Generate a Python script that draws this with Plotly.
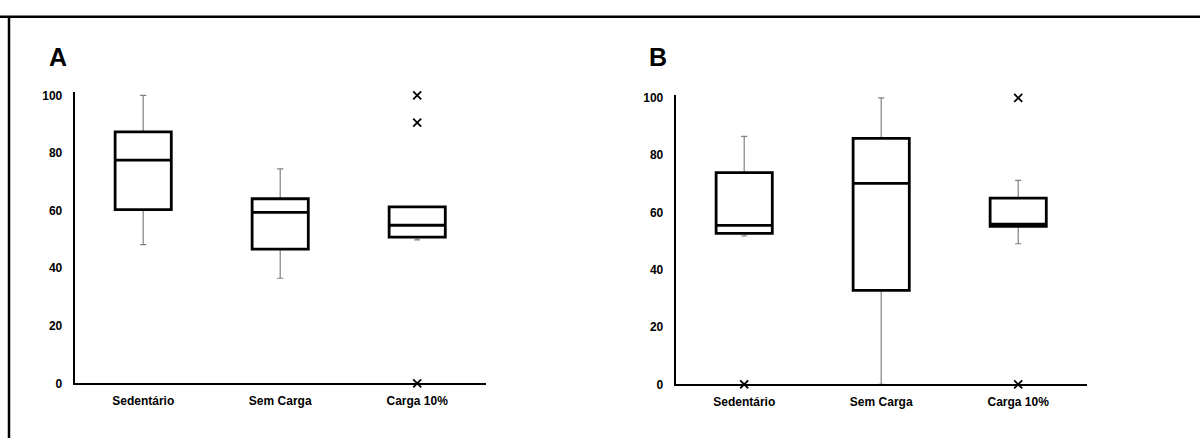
import plotly.graph_objects as go

categories = ["Sedentário", "Sem Carga", "Carga 10%"]
y_ticks = [0, 20, 40, 60, 80, 100]

# Panel A
a_low = [48.2, 36.5, 49.8]
a_q1 = [60.3, 46.6, 50.8]
a_med = [77.5, 59.4, 54.9]
a_q3 = [87.3, 64.1, 61.3]
a_high = [100, 74.5, 61.3]
a_out_x = ["Carga 10%", "Carga 10%", "Carga 10%"]
a_out_y = [100, 90.5, 0]

# Panel B
b_low = [51.8, 0, 49.1]
b_q1 = [52.7, 32.8, 55.2]
b_med = [55.5, 70.2, 55.9]
b_q3 = [73.9, 85.9, 65.0]
b_high = [86.6, 100, 71.2]
b_out_x = ["Sedentário", "Carga 10%", "Carga 10%"]
b_out_y = [0, 100, 0]

W, H = 1200, 445
fig = go.Figure()

def add_panel(xa, ya, low, q1, med, q3, high, ox, oy):
    # gray whiskers
    fig.add_trace(go.Box(x=categories, q1=q1, median=med, q3=q3,
                         lowerfence=low, upperfence=high,
                         width=0.41, whiskerwidth=0.11,
                         line=dict(color="#808080", width=1.2),
                         fillcolor="white", boxpoints=False,
                         showlegend=False, hoverinfo="skip",
                         xaxis=xa, yaxis=ya))
    # black box
    fig.add_trace(go.Box(x=categories, q1=q1, median=med, q3=q3,
                         lowerfence=q1, upperfence=q3,
                         width=0.41, whiskerwidth=0,
                         line=dict(color="black", width=2.8),
                         fillcolor="white", boxpoints=False,
                         showlegend=False, hoverinfo="skip",
                         xaxis=xa, yaxis=ya))
    fig.add_trace(go.Scatter(x=ox, y=oy, mode="markers",
                             marker=dict(symbol="x-thin", size=8,
                                         line=dict(color="black", width=1.8)),
                             cliponaxis=False, showlegend=False,
                             hoverinfo="skip", xaxis=xa, yaxis=ya))

add_panel("x", "y", a_low, a_q1, a_med, a_q3, a_high, a_out_x, a_out_y)
add_panel("x2", "y2", b_low, b_q1, b_med, b_q3, b_high, b_out_x, b_out_y)

tickfont = dict(family="Arial", size=12, color="black", weight="bold")
xcommon = dict(type="category", categoryorder="array", categoryarray=categories,
               range=[-0.5, 2.5], showline=True, linecolor="black", linewidth=2,
               showgrid=False, zeroline=False, ticks="", tickfont=tickfont,
               ticklabelstandoff=5, fixedrange=True)
ycommon = dict(range=[0, 101], tickvals=y_ticks, showline=True, linecolor="black",
               linewidth=2, showgrid=False, zeroline=False, ticks="",
               tickfont=tickfont, ticklabelstandoff=8, fixedrange=True)

fig.update_layout(
    width=W, height=H,
    margin=dict(l=0, r=0, t=0, b=0),
    paper_bgcolor="white", plot_bgcolor="white",
    boxmode="overlay",
    xaxis=dict(domain=[74.7 / W, 485.7 / W], anchor="y", **xcommon),
    yaxis=dict(domain=[1 - 389 / H, 1 - 90.7 / H], anchor="x", **ycommon),
    xaxis2=dict(domain=[675.7 / W, 1086.7 / W], anchor="y2", **xcommon),
    yaxis2=dict(domain=[1 - 390 / H, 1 - 93.4 / H], anchor="x2", **ycommon),
    annotations=[
        dict(text="<b>A</b>", x=57.5 / W, y=1 - 54 / H, xref="paper", yref="paper",
             xanchor="center", yanchor="middle",
             showarrow=False, font=dict(family="Arial", size=25, color="black")),
        dict(text="<b>B</b>", x=658 / W, y=1 - 54.5 / H, xref="paper", yref="paper",
             xanchor="center", yanchor="middle",
             showarrow=False, font=dict(family="Arial", size=25, color="black")),
    ],
    shapes=[
        dict(type="line", xref="paper", yref="paper", x0=0, x1=1,
             y0=1 - 13 / H, y1=1 - 13 / H, line=dict(color="black", width=2.5)),
        dict(type="line", xref="paper", yref="paper", x0=9 / W, x1=9 / W,
             y0=0, y1=1 - 13 / H, line=dict(color="black", width=2.5)),
    ],
)

fig.write_html("out.html", config={"displayModeBar": False},
               post_script="document.body.style.margin='0';document.body.style.overflow='hidden';")
